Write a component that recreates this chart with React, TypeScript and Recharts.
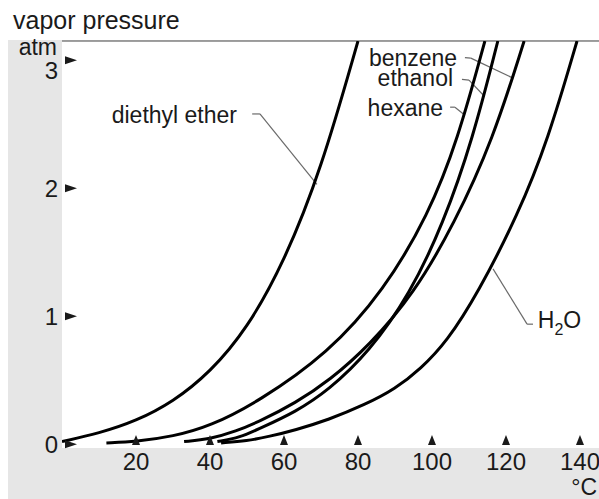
import React from "react";
import {
  LineChart,
  Line,
  XAxis,
  YAxis,
  CartesianGrid,
  ReferenceLine,
  ReferenceDot,
} from "recharts";

// temperatures (°C) and vapor pressures (atm)
const etherT = [0, 10, 20, 30, 40, 50, 60, 70, 80];
const etherP = [0.02, 0.085, 0.18, 0.33, 0.56, 0.9, 1.42, 2.14, 3.15];

const hexaneT = [12, 20, 30, 40, 53, 72, 87, 99, 107, 114.3];
const hexaneP = [0.01, 0.02, 0.06, 0.14, 0.33, 0.71, 1.2, 1.79, 2.38, 3.15];

const benzeneT = [33, 40, 47, 53.5, 63, 72.4, 83, 95, 106, 116.5, 124.9];
const benzeneP = [0.02, 0.04, 0.1, 0.18, 0.32, 0.5, 0.77, 1.17, 1.72, 2.38, 3.15];

const ethanolT = [42, 48, 54, 63, 72, 83, 94, 103, 111, 117.8];
const ethanolP = [0.02, 0.05, 0.13, 0.25, 0.42, 0.72, 1.17, 1.72, 2.38, 3.15];

const waterT = [43, 50, 56, 63, 72, 82, 90, 97, 104, 112.4, 123.2, 131.4, 139.2];
const waterP = [0.01, 0.025, 0.06, 0.11, 0.19, 0.31, 0.43, 0.59, 0.8, 1.18, 1.79, 2.38, 3.15];

const xTicks = [20, 40, 60, 80, 100, 120, 140];
const yTicks = [0, 1, 2, 3];

const zip = (t: number[], p: number[]) => t.map((v, i) => ({ t: v, p: p[i] }));

const series = [
  { name: "diethyl ether", data: zip(etherT, etherP) },
  { name: "hexane", data: zip(hexaneT, hexaneP) },
  { name: "benzene", data: zip(benzeneT, benzeneP) },
  { name: "ethanol", data: zip(ethanolT, ethanolP) },
  { name: "H2O", data: zip(waterT, waterP) },
];

// label text anchor + leader line, in data units
const labels = [
  { text: "diethyl ether", at: [47.3, 2.57], anchor: "end", leader: [[51.4, 2.58], [53.5, 2.58], [68.9, 2.03]] },
  { text: "benzene", at: [106.8, 3.02], anchor: "end", leader: [[108.9, 3.02], [110.5, 3.016], [121.9, 2.86]] },
  { text: "ethanol", at: [105.7, 2.86], anchor: "end", leader: [[108.1, 2.85], [110.0, 2.844], [114.1, 2.72]] },
  { text: "hexane", at: [103.0, 2.625], anchor: "end", leader: [[104.9, 2.633], [106.2, 2.633], [108.9, 2.57]] },
  { text: "H2O", at: [128.6, 0.97], anchor: "start", leader: [[127.3, 0.9375], [125.7, 0.9375], [116.5, 1.37]] },
];

const FONT = "'Liberation Sans', Arial, Helvetica, sans-serif";
const INK = "#1a1a1a";

const XTick = (props: any) => {
  const { x, y, payload } = props;
  return (
    <g>
      <path d={`M${x - 4},${y - 3} L${x + 4},${y - 3} L${x},${y - 13} Z`} fill={INK} />
      <text x={x} y={y + 22} textAnchor="middle" fontSize={24} fill={INK} fontFamily={FONT}>
        {payload.value}
      </text>
    </g>
  );
};

const YTick = (props: any) => {
  const { x, y, payload } = props;
  const v = payload.value;
  return (
    <g>
      <path d={`M${x + 3},${y - 4} L${x + 3},${y + 4} L${x + 15},${y} Z`} fill={INK} />
      <text x={x - 4} y={y + (v === 3 ? 19 : 9)} textAnchor="end" fontSize={24} fill={INK} fontFamily={FONT}>
        {v}
      </text>
      {v === 3 && (
        <text x={x - 5} y={y - 5} textAnchor="end" fontSize={23} fill={INK} fontFamily={FONT}>
          atm
        </text>
      )}
    </g>
  );
};

const labelShape = (text: string, anchor: string) => (props: any) => {
  const { cx, cy } = props;
  if (text === "H2O") {
    return (
      <text x={cx} y={cy + 8} textAnchor={anchor} fontSize={23} fill={INK} fontFamily={FONT}>
        <tspan>H</tspan>
        <tspan dy={7} fontSize={16}>2</tspan>
        <tspan dy={-7}>O</tspan>
      </text>
    );
  }
  return (
    <text x={cx} y={cy + 8} textAnchor={anchor} fontSize={23} fill={INK} fontFamily={FONT}>
      {text}
    </text>
  );
};

export default function App() {
  return (
    <div style={{ position: "absolute", left: 0, top: 0, width: 599, height: 499, background: "#fff", overflow: "hidden" }}>
      <div style={{ position: "absolute", left: 8, top: 40, width: 591, height: 459, background: "#e6e6e6" }} />
      <svg style={{ position: "absolute", left: 0, top: 0 }} width={599} height={499}>
        <text x={13} y={29} fontSize={25} fill={INK} fontFamily={FONT}>
          vapor pressure
        </text>
        <text x={597} y={495} textAnchor="end" fontSize={23} fill={INK} fontFamily={FONT}>
          °C
        </text>
      </svg>
      <div style={{ position: "absolute", left: 0, top: 0 }}>
        <LineChart width={599} height={499} margin={{ top: 41, right: 0, bottom: 0, left: 0 }}>
          <CartesianGrid horizontal={false} vertical={false} fill="#fff" />
          <XAxis
            type="number"
            dataKey="t"
            domain={[0, 145.14]}
            ticks={xTicks}
            allowDataOverflow
            height={51}
            axisLine={false}
            tickLine={false}
            tickSize={0}
            tickMargin={0}
            tick={<XTick />}
            interval={0}
          />
          <YAxis
            type="number"
            domain={[-0.03, 3.15]}
            ticks={yTicks}
            allowDataOverflow
            width={62}
            axisLine={false}
            tickLine={false}
            tickSize={0}
            tickMargin={0}
            tick={<YTick />}
            interval={0}
          />
          <ReferenceLine y={3.15} stroke="#808080" strokeWidth={1.5} />
          {labels.map((l) =>
            l.leader.slice(1).map((pt, i) => (
              <ReferenceLine
                key={`${l.text}-${i}`}
                segment={[
                  { x: l.leader[i][0], y: l.leader[i][1] },
                  { x: pt[0], y: pt[1] },
                ]}
                stroke="#6a6a6a"
                strokeWidth={1.2}
              />
            ))
          )}
          {series.map((s) => (
            <Line
              key={s.name}
              data={s.data}
              dataKey="p"
              type="basis"
              stroke="#000"
              strokeWidth={3}
              dot={false}
              isAnimationActive={false}
            />
          ))}
          {labels.map((l) => (
            <ReferenceDot
              key={`lab-${l.text}`}
              x={l.at[0]}
              y={l.at[1]}
              r={0}
              shape={labelShape(l.text, l.anchor)}
            />
          ))}
        </LineChart>
      </div>
    </div>
  );
}
